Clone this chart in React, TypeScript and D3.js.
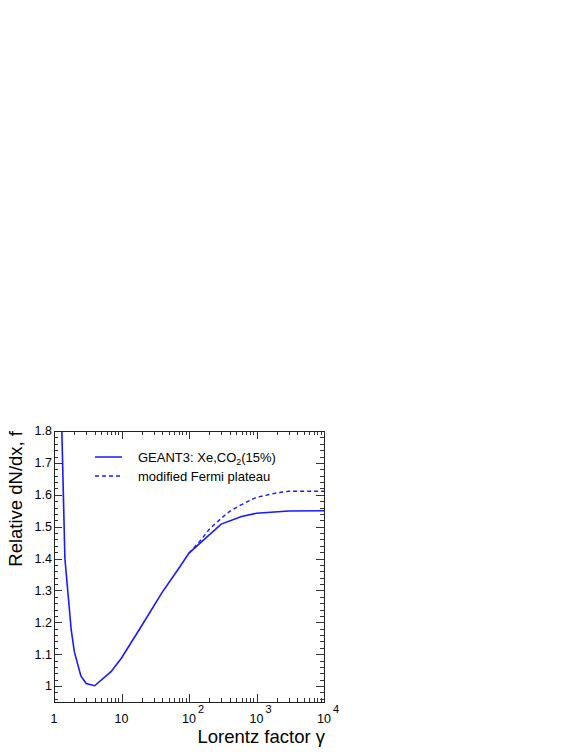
import React, { useEffect, useRef } from "react";
import * as d3 from "d3";

// Lorentz factor values and relative dN/dx
const gammaGeant = [1.3, 1.45, 1.8, 2, 2.5, 3, 4, 7, 10, 20, 40, 70, 100, 300, 600, 1000, 3000, 10000];
const dndxGeant = [1.82, 1.4, 1.176, 1.108, 1.032, 1.008, 1.001, 1.045, 1.088, 1.19, 1.294, 1.368, 1.417, 1.508, 1.532, 1.542, 1.549, 1.55];

const gammaFermi = [100, 150, 200, 300, 400, 600, 1000, 2000, 3000, 10000];
const dndxFermi = [1.417, 1.458, 1.492, 1.526, 1.548, 1.569, 1.592, 1.606, 1.611, 1.611];

const xDecades = [0, 1, 2, 3, 4];
const yMajor = [1, 1.1, 1.2, 1.3, 1.4, 1.5, 1.6, 1.7, 1.8];

const legendItems = [
  { name: "GEANT3: Xe,CO", sub: "2", tail: "(15%)", dash: null },
  { name: "modified Fermi plateau", sub: "", tail: "", dash: "4,3" },
];

const App = () => {
  const svgRef = useRef<SVGSVGElement>(null);

  useEffect(() => {
    const width = 584;
    const height = 756;
    const left = 54;
    const right = 324;
    const top = 431;
    const bottom = 702;

    const svg = d3
      .select(svgRef.current)
      .attr("width", width)
      .attr("height", height)
      .style("font-family", "'Liberation Sans', Arial, sans-serif");

    svg.selectAll("*").remove();

    const x = d3.scaleLog().domain([1, 10000]).range([left, right]);
    const y = d3.scaleLinear().domain([0.95, 1.8]).range([bottom, top]);

    const ticks = svg.append("g").attr("stroke", "#333").attr("stroke-width", 1);

    // x ticks (bottom and top)
    const xMinor: number[] = [];
    xDecades.slice(0, -1).forEach((d) => {
      for (let k = 2; k <= 9; k++) xMinor.push(k * Math.pow(10, d));
    });
    const xMaj = xDecades.map((d) => Math.pow(10, d));
    const addX = (vals: number[], len: number) => {
      vals.forEach((v) => {
        const px = Math.round(x(v)) + 0.5;
        ticks.append("line").attr("x1", px).attr("x2", px).attr("y1", bottom).attr("y2", bottom - len);
        ticks.append("line").attr("x1", px).attr("x2", px).attr("y1", top).attr("y2", top + len);
      });
    };
    addX(xMaj, 8);
    addX(xMinor, 4);

    // y ticks (left and right)
    const yMinor = d3.range(0, 43).map((i) => 0.96 + i * 0.02).filter((v) => v <= 1.8001);
    const addY = (vals: number[], len: number) => {
      vals.forEach((v) => {
        const py = Math.round(y(v)) + 0.5;
        ticks.append("line").attr("x1", left).attr("x2", left + len).attr("y1", py).attr("y2", py);
        ticks.append("line").attr("x1", right).attr("x2", right - len).attr("y1", py).attr("y2", py);
      });
    };
    addY(yMinor, 4);
    addY(yMajor, 8);

    // curves
    svg
      .append("clipPath")
      .attr("id", "plotclip")
      .append("rect")
      .attr("x", left)
      .attr("y", top)
      .attr("width", right - left)
      .attr("height", bottom - top);

    const line = d3
      .line<[number, number]>()
      .x((d) => x(d[0]))
      .y((d) => y(d[1]));

    const curves = svg.append("g").attr("clip-path", "url(#plotclip)");

    curves
      .append("path")
      .attr("d", line(gammaFermi.map((g, i) => [g, dndxFermi[i]] as [number, number])))
      .attr("fill", "none")
      .attr("stroke", "#1a1aff")
      .attr("stroke-width", 1.4)
      .attr("stroke-dasharray", "4,3");

    curves
      .append("path")
      .attr("d", line(gammaGeant.map((g, i) => [g, dndxGeant[i]] as [number, number])))
      .attr("fill", "none")
      .attr("stroke", "#1a1aff")
      .attr("stroke-width", 1.6);

    // frame
    svg
      .append("rect")
      .attr("x", left + 0.5)
      .attr("y", top + 0.5)
      .attr("width", right - left)
      .attr("height", bottom - top)
      .attr("fill", "none")
      .attr("stroke", "#222")
      .attr("stroke-width", 1);

    // x tick labels
    xDecades.forEach((d) => {
      svg
        .append("text")
        .attr("x", x(Math.pow(10, d)))
        .attr("y", 723)
        .attr("text-anchor", "middle")
        .style("font-size", "12.5px")
        .text(d === 0 ? "1" : "10");
      if (d >= 2) {
        svg
          .append("text")
          .attr("x", x(Math.pow(10, d)) + 9)
          .attr("y", 713)
          .style("font-size", "11px")
          .text(String(d));
      }
    });

    // y tick labels
    yMajor.forEach((v) => {
      svg
        .append("text")
        .attr("x", 52)
        .attr("y", y(v))
        .attr("dy", "0.35em")
        .attr("text-anchor", "end")
        .style("font-size", "12.5px")
        .text(v === 1 ? "1" : d3.format(".1f")(v));
    });

    // axis titles
    svg
      .append("text")
      .attr("x", right + 1)
      .attr("y", 743)
      .attr("text-anchor", "end")
      .style("font-size", "18.5px")
      .text("Lorentz factor γ");

    svg
      .append("text")
      .attr("transform", `translate(22, ${top}) rotate(-90)`)
      .attr("text-anchor", "end")
      .style("font-size", "18.5px")
      .text("Relative dN/dx, f");

    // legend
    legendItems.forEach((item, i) => {
      const ly = 457 + i * 19;
      svg
        .append("line")
        .attr("x1", 95)
        .attr("x2", 122)
        .attr("y1", ly)
        .attr("y2", ly)
        .attr("stroke", "#1a1aff")
        .attr("stroke-width", 1.5)
        .attr("stroke-dasharray", item.dash);
      const t = svg
        .append("text")
        .attr("x", 138)
        .attr("y", ly + 5)
        .style("font-size", "13px");
      t.append("tspan").text(item.name);
      if (item.sub) {
        t.append("tspan").attr("dy", 3).style("font-size", "9px").text(item.sub);
        t.append("tspan").attr("dy", -3).text(item.tail);
      }
    });
  }, []);

  return (
    <div>
      <svg ref={svgRef} style={{ position: "absolute", left: 0, top: 0 }}></svg>
    </div>
  );
};

export default App;
